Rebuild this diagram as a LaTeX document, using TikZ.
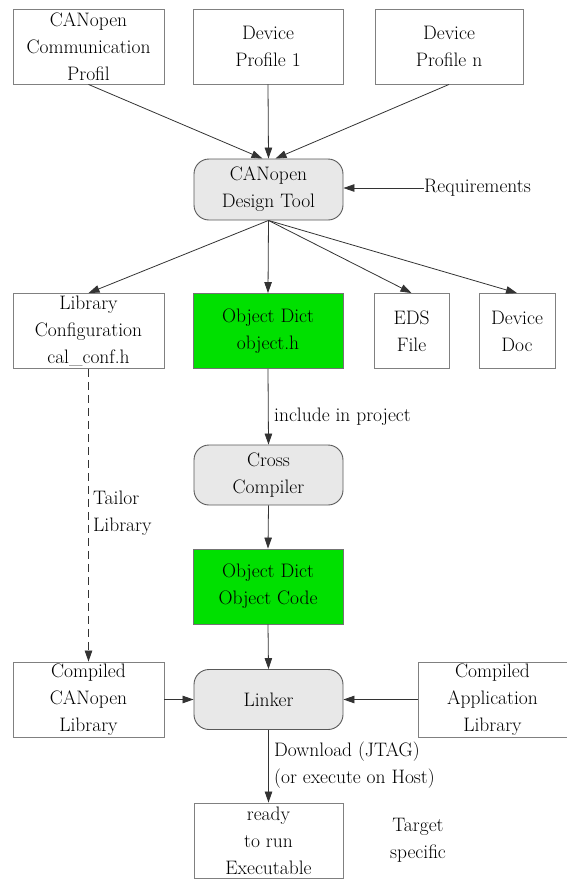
\documentclass[tikz,border=0pt]{standalone}
\usetikzlibrary{arrows.meta}
\definecolor{boxgray}{HTML}{E8E8E8}
\definecolor{dictgreen}{HTML}{00E000}
\definecolor{edgecol}{HTML}{333333}
\definecolor{framecol}{HTML}{808080}
\begin{document}
\begin{tikzpicture}[x=1pt,y=-1pt,
  every node/.style={font=\rmfamily\fontsize{19.5}{27}\selectfont, text=black, align=center, inner sep=0pt},
  plainbox/.style={draw=framecol, line width=0.9pt, rectangle, minimum height=75pt},
  greenbox/.style={plainbox, fill=dictgreen, draw=black!55},
  toolbox/.style={draw=black!65, line width=0.9pt, rectangle, rounded corners=15pt, fill=boxgray, minimum width=149pt, minimum height=61pt},
  flow/.style={draw=edgecol, line width=0.8pt, -{Triangle[length=11pt,width=7.5pt]}},
  lbl/.style={anchor=west, align=left}
]
\useasboundingbox (0,0) rectangle (567,879);

% source documents
\node[plainbox, minimum width=151pt] (comm) at (88.5,46.5) {CANopen\\Communication\\Profil};
\node[plainbox, minimum width=150pt] (dpa) at (268,46.5) {Device\\Profile 1};
\node[plainbox, minimum width=148pt] (dpn) at (449,46.5) {Device\\Profile n};

% design tool
\node[toolbox] (tool) at (268.5,189.5) {CANopen\\Design Tool};
\node[anchor=west] (req) at (424,188) {Requirements};

% generated files
\node[plainbox, minimum width=151pt] (libconf) at (88.5,331) {Library\\Configuration\\cal\_conf.h};
\node[greenbox, minimum width=150pt] (objh) at (268,331) {Object Dict\\object.h};
\node[plainbox, minimum width=75pt] (eds) at (411.5,331) {EDS\\File};
\node[plainbox, minimum width=76pt] (doc) at (517,331) {Device\\Doc};

% build chain
\node[toolbox, minimum height=60pt] (cross) at (268.5,475) {Cross\\Compiler};
\node[greenbox, minimum width=150pt] (objc) at (268,586.5) {Object Dict\\Object Code};
\node[plainbox, minimum width=151pt] (ccan) at (88.5,699.5) {Compiled\\CANopen\\Library};
\node[toolbox, minimum height=60pt] (linker) at (268.5,699.5) {Linker};
\node[plainbox, minimum width=149pt] (applib) at (492.5,699.5) {Compiled\\Application\\Library};
\node[plainbox, minimum width=149pt] (exe) at (268.5,840.5) {ready\\to run\\Executable};

% free labels
\node[lbl] (inclbl) at (274,417) {include in project};
\node[lbl] (taillbl) at (93,513.5) {Tailor\\Library};
\node[lbl] (dlbl) at (274,765) {Download (JTAG)\\(or execute on Host)};
\node (tgt) at (418,840) {Target\\specific};

% connectors
\draw[flow] (comm.south) -- ([xshift=-6pt]tool.north);
\draw[flow] (dpa.south) -- (tool.north);
\draw[flow] (dpn.south) -- ([xshift=7pt]tool.north);
\draw[flow] (req.west) -- (req.west -| tool.east);

\draw[flow] (tool.south) -- (libconf.north);
\draw[flow] (tool.south) -- (objh.north);
\draw[flow] (tool.south) -- (eds.north);
\draw[flow] (tool.south) -- (doc.north);

\draw[flow] (objh.south) -- (cross.north);
\draw[flow] (cross.south) -- (objc.north);
\draw[flow] (objc.south) -- (linker.north);
\draw[flow, dash pattern=on 8pt off 5pt] (libconf.south) -- (ccan.north);
\draw[flow] (ccan.east) -- (linker.west);
\draw[flow] (applib.west) -- (linker.east);
\draw[flow] (linker.south) -- (exe.north);
\end{tikzpicture}
\end{document}
